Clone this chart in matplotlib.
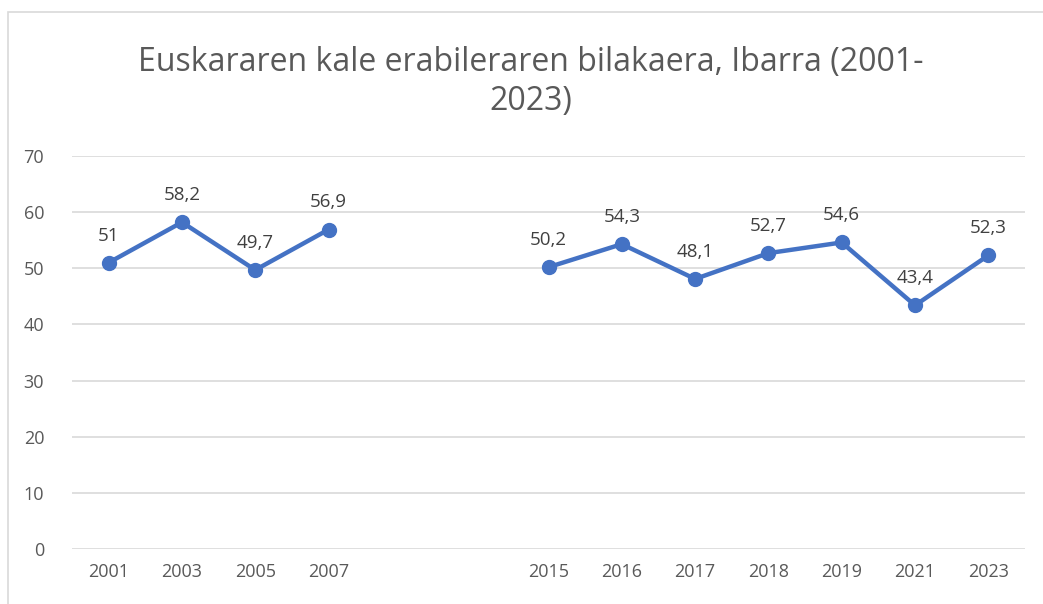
import numpy as np
import matplotlib
matplotlib.use("Agg")
import matplotlib.pyplot as plt
from matplotlib.patches import Rectangle

# Data (empty categories between 2007 and 2015 leave a gap)
years = ["2001", "2003", "2005", "2007", "", "", "2015", "2016", "2017", "2018", "2019", "2021", "2023"]
values = [51, 58.2, 49.7, 56.9, np.nan, np.nan, 50.2, 54.3, 48.1, 52.7, 54.6, 43.4, 52.3]

plt.rcParams["font.family"] = ["Open Sans", "DejaVu Sans"]

fig = plt.figure(figsize=(10.43, 6.04), dpi=100)
fig.patches.append(Rectangle((8 / 1043, -0.1), 1.2, 1 - 12 / 604 + 0.1, transform=fig.transFigure,
                             fill=False, edgecolor="#d9d9d9", linewidth=1.2))

ax = fig.add_axes([72 / 1043, 1 - 549 / 604, (1025 - 72) / 1043, (549 - 156) / 604])
x = np.arange(len(years))
ax.plot(x, values, color="#4472C4", linewidth=3.2, marker="o", markersize=10, zorder=3)

for xi, v in zip(x, values):
    if np.isnan(v):
        continue
    ax.annotate(f"{v:g}".replace(".", ","), xy=(xi, v), xytext=(0, 13), textcoords="offset points",
                ha="center", va="bottom", fontsize=13.5, color="#404040")

ax.set_xlim(-0.5, len(years) - 0.5)
ax.set_ylim(0, 70)
ax.set_yticks(range(0, 71, 10))
ax.set_xticks(x)
ax.set_xticklabels(years)
ax.grid(axis="y", color="#d9d9d9", linewidth=1.2)
ax.set_axisbelow(True)
for s in ax.spines.values():
    s.set_visible(False)
ax.tick_params(length=0, labelsize=13, colors="#595959", pad=10)
ax.tick_params(axis="y", pad=20)

fig.text(531 / 1043, 1 - 82 / 604, "Euskararen kale erabileraren bilakaera, Ibarra (2001-\n2023)",
         ha="center", va="center", fontsize=23, color="#595959", linespacing=1.25)

fig.savefig("out.png", dpi=100)
